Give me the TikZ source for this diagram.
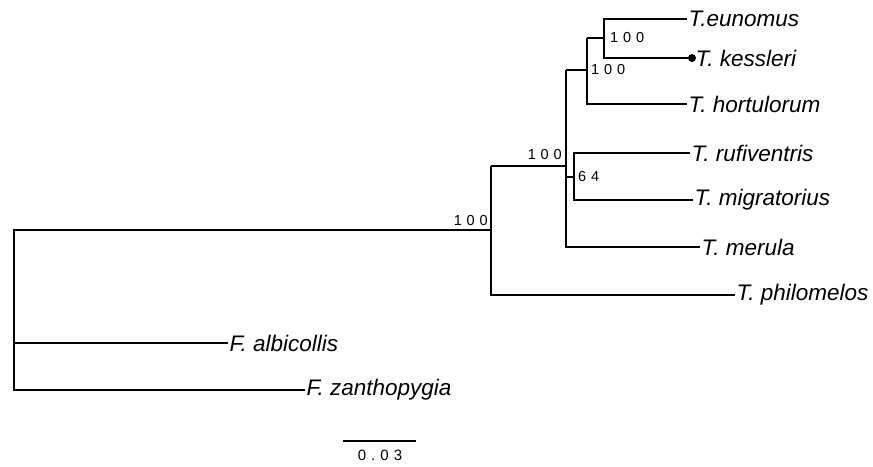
\documentclass[tikz,border=0pt]{standalone}
\usepackage{fontspec}
\setmainfont{Liberation Sans}
\newfontfamily\numfont[LetterSpace=34]{Liberation Sans}
\begin{document}
\begin{tikzpicture}[x=1pt,y=-1pt,
  branch/.style={line width=1.6pt},
  tip/.style={anchor=west,inner sep=1.5pt,font=\fontsize{22.5}{26}\selectfont\itshape},
  supp/.style={inner sep=0pt,font=\fontsize{14.5}{17}\selectfont\numfont},
  dotmark/.style={circle,fill=black,inner sep=0pt,minimum size=8pt}]
\useasboundingbox (0,0) rectangle (873,466);
% internal nodes
\coordinate (root) at (14,343);
\coordinate (n1) at (491,230);
\coordinate (n2) at (566,166);
\coordinate (n3) at (566,70);
\coordinate (n3v) at (587,70);
\coordinate (n4) at (587,38);
\coordinate (n4v) at (604,38);
\coordinate (n5) at (566,177);
\coordinate (n5v) at (574,177);
\coordinate (n1v) at (491,166);
% tips
\node[tip] (eun) at (687,19) {T.eunomus};
\coordinate (kesend) at (692,58);
\node[tip] (kes) at (694,58) {T. kessleri};
\node[tip] (hor) at (687,104) {T. hortulorum};
\node[tip] (ruf) at (690,153) {T. rufiventris};
\node[tip] (mig) at (693,200) {T. migratorius};
\node[tip] (mer) at (700,247) {T. merula};
\node[tip] (phi) at (735,295) {T. philomelos};
\node[tip] (alb) at (228,343) {F. albicollis};
\node[tip] (zan) at (305,390) {F. zanthopygia};
\node[dotmark] (kdot) at (kesend) {};
% branches
\draw[branch] (eun.west) -| (n4v);
\draw[branch] (kesend) -| (n4v);
\draw[branch] (n4v) -- (n4);
\draw[branch] (n4) -| (n3v);
\draw[branch] (hor.west) -| (n3v);
\draw[branch] (n3v) -- (n3);
\draw[branch] (ruf.west) -| (n5v);
\draw[branch] (mig.west) -| (n5v);
\draw[branch] (n5v) -- (n5);
\draw[branch] (n3) -- (n5);
\draw[branch] (mer.west) -| (n2);
\draw[branch] (n2) -- (n1v);
\draw[branch] (n1v) -- (n1);
\draw[branch] (phi.west) -| (n1);
\draw[branch] (n1) -| (root);
\draw[branch] (alb.west) -- (root);
\draw[branch] (zan.west) -| (root);
% support values
\node[supp,anchor=west] (s4) at (610,38) {100};
\node[supp,anchor=west] (s3) at (591,70) {100};
\node[supp,anchor=west] (s5) at (578,177) {64};
\node[supp,anchor=south east] (s2) at (562,160) {100};
\node[supp,anchor=south east] (s1) at (488,226) {100};
% scale bar
\coordinate (sb1) at (343,441);
\coordinate (sb2) at (416,441);
\draw[line width=1.4pt] (sb1) -- (sb2);
\node[supp,anchor=north,font=\fontsize{15}{17}\selectfont\numfont] (sbl) at (380,450) {0.03};
\end{tikzpicture}
\end{document}
